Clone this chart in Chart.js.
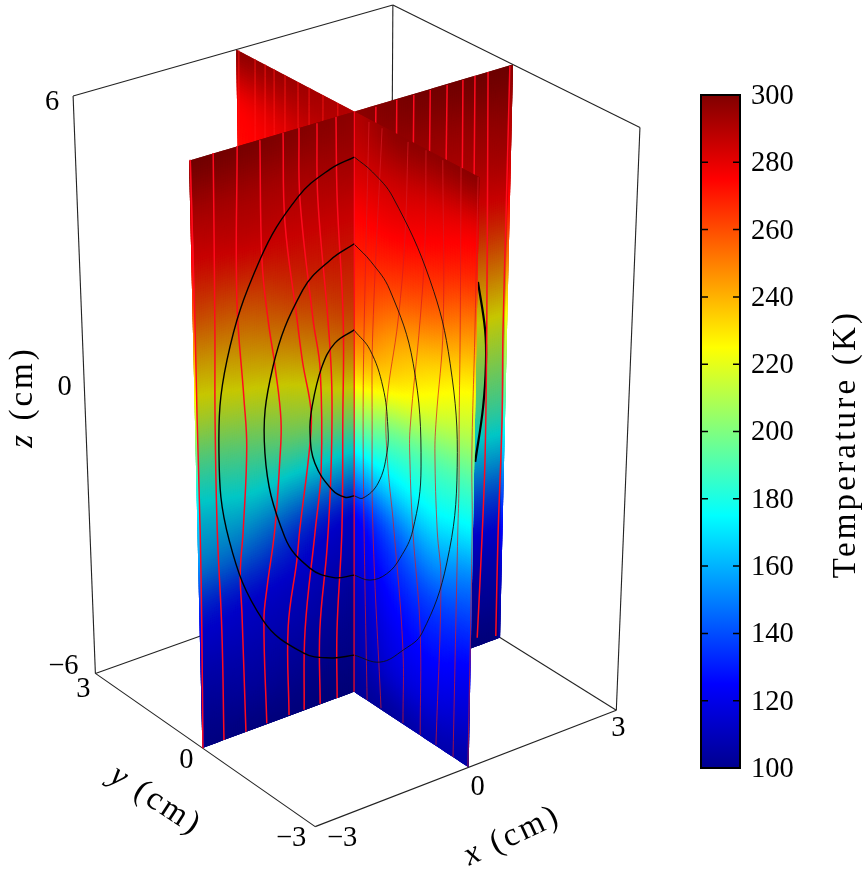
<!DOCTYPE html>
<html>
<head>
<meta charset="utf-8">
<style>
  body { margin: 0; background: #fff; overflow: hidden; }
  canvas { position: absolute; top: 0; }
</style>
<script src="https://cdn.jsdelivr.net/npm/chart.js@4"></script>
</head>
<body>
<canvas id="slices" width="863" height="880" style="left:0"></canvas>
<canvas id="colorbar" width="173" height="880" style="left:690px"></canvas>
<script>
// Temperature on two crossing slices (K)
const zLevels = [6, 5, 4, 3, 2, 1, 0, -1, -2, -3, -4, -5, -6];
const tCenter = [290, 284, 275, 268, 258, 238, 205, 165, 128, 117, 110, 106, 102];
const tLeft1 = [292, 283, 275, 265, 248, 226, 202, 168, 136, 123, 116, 109, 103];
const tLeft2 = [295, 284, 275, 258, 240, 220, 196, 173, 150, 128, 119, 112, 104];
const tLeft3 = [297, 284, 273, 257, 236, 216, 191, 170, 155, 132, 120, 111, 105];
const tRight1 = [297, 285, 275, 262, 245, 228, 195, 170, 143, 130, 122, 115, 103];
const tRight2 = [297, 282, 271, 256, 236, 218, 192, 175, 155, 137, 127, 118, 107];
const tRight3 = [298, 279, 266, 247, 228, 211, 190, 172, 150, 135, 123, 114, 105];
const tBackX1 = [295, 287, 280, 268, 250, 228, 205, 185, 160, 135, 118, 110, 103];
const tBackX2 = [297, 288, 280, 268, 248, 225, 205, 185, 160, 135, 118, 110, 103];
const tBackX3 = [298, 290, 282, 268, 247, 224, 205, 186, 161, 135, 119, 110, 103];
const tBackY1 = [293, 285, 278, 268, 250, 228, 205, 170, 140, 125, 116, 109, 103];
const tBackY2 = [295, 281, 274, 260, 242, 222, 198, 175, 150, 128, 119, 112, 104];
const tBackY3 = [297, 277, 272, 258, 238, 218, 193, 170, 155, 132, 120, 111, 105];

// contour lines, [x, z] on y=0 or [y, z] on x=0
const contourLeftOuter = [[0,5.13],[-0.45,5.04],[-1.05,4.69],[-1.76,3.70],[-2.39,1.94],[-2.57,0.13],[-2.41,-1.74],[-1.79,-3.69],[-1.01,-4.72],[-0.45,-5.06],[0,-5.18]];
const contourLeftMiddle = [[0,3.44],[-0.45,3.27],[-0.97,2.85],[-1.54,1.51],[-1.71,-0.19],[-1.35,-2.08],[-0.87,-2.93],[-0.40,-3.32],[0,-3.42]];
const contourLeftInner = [[0,1.72],[-0.37,1.58],[-0.62,1.18],[-0.81,0.43],[-0.85,-0.09],[-0.76,-0.75],[-0.43,-1.43],[-0.18,-1.68],[0,-1.72]];
const contourRightOuter = [[0,5.13],[-0.45,5.03],[-0.95,4.76],[-1.87,3.55],[-2.38,2.15],[-2.59,0.16],[-2.37,-1.93],[-1.77,-3.74],[-1.29,-4.37],[-0.69,-4.96],[0,-5.18]];
const contourRightMiddle = [[0,3.43],[-0.42,3.27],[-0.89,2.92],[-1.48,1.73],[-1.70,-0.27],[-1.51,-1.68],[-1.19,-2.44],[-0.85,-2.95],[-0.42,-3.31],[0,-3.42]];
const contourRightInner = [[0,1.71],[-0.40,1.50],[-0.73,0.90],[-0.86,0.14],[-0.84,-0.40],[-0.62,-1.14],[-0.23,-1.65],[0,-1.72]];
const contourBack = [[2.40,1.88],[2.56,0.84],[2.59,0.14],[2.55,-0.77],[2.41,-1.89]];

// heat flux lines, same coordinates
const centerLine = [[0,6],[0,-6]];
const fluxLeft = [
  [[-2.98,6.01],[-2.96,2.93],[-2.96,0.94],[-2.95,-1.32],[-2.96,-3.44],[-2.99,-6.01]],
  [[-2.57,6.01],[-2.60,2.67],[-2.63,0.82],[-2.63,-1.44],[-2.58,-3.59],[-2.58,-6.00]],
  [[-2.14,6.01],[-2.19,3.06],[-2.09,1.09],[-2.05,0.06],[-2.14,-1.63],[-2.21,-2.51],[-2.19,-3.38],[-2.15,-6.00]],
  [[-1.73,5.99],[-1.72,3.69],[-1.62,2.47],[-1.50,1.49],[-1.40,0.38],[-1.43,-0.44],[-1.54,-1.86],[-1.70,-3.01],[-1.77,-3.70],[-1.74,-5.98]],
  [[-1.31,6.00],[-1.29,4.27],[-1.08,2.29],[-0.98,1.39],[-0.83,0.38],[-0.85,-0.29],[-1.06,-2.04],[-1.12,-2.66],[-1.30,-4.03],[-1.30,-5.98]],
  [[-1.02,6.00],[-1.01,4.62],[-0.78,2.19],[-0.65,1.13],[-0.64,-0.93],[-0.76,-2.16],[-0.97,-4.23],[-1.00,-5.99]],
  [[-0.69,5.99],[-0.68,4.52],[-0.50,2.09],[-0.43,0.71],[-0.45,-1.01],[-0.53,-2.61],[-0.68,-4.35],[-0.68,-5.99]],
  [[-0.34,6.00],[-0.32,4.40],[-0.21,1.99],[-0.22,-0.05],[-0.24,-2.36],[-0.34,-4.49],[-0.34,-6.00]]
];
const fluxRight = [
  [[-0.36,5.95],[-0.25,1.83],[-0.23,-0.02],[-0.26,-2.32],[-0.35,-5.99]],
  [[-0.68,5.96],[-0.47,1.93],[-0.46,0.09],[-0.49,-2.20],[-0.72,-5.97]],
  [[-1.31,5.96],[-1.25,4.06],[-1.10,2.42],[-0.83,0.62],[-0.84,-0.40],[-1.03,-1.92],[-1.28,-4.31],[-1.30,-5.98]],
  [[-1.74,5.98],[-1.74,4.27],[-1.64,2.66],[-1.42,0.41],[-1.42,-0.26],[-1.51,-1.68],[-1.72,-3.70],[-1.75,-5.99]],
  [[-2.14,5.96],[-2.20,2.78],[-2.06,0.86],[-2.04,0.18],[-2.12,-1.37],[-2.23,-2.36],[-2.16,-5.98]],
  [[-2.57,6.01],[-2.61,2.91],[-2.62,1.13],[-2.64,-0.22],[-2.63,-1.11],[-2.60,-6.00]],
  [[-2.97,5.99],[-2.96,3.07],[-2.94,0.62],[-2.98,-0.93],[-2.98,-6.00]]
];
const fluxBackX = [
  [[0.40,5.97],[0.39,4.56]], [[0.79,5.98],[0.79,4.44]], [[1.11,5.98],[1.11,4.34]],
  [[1.42,5.98],[1.42,4.24]], [[1.74,5.98],[1.74,4.14]], [[2.04,5.99],[2.06,3.84]],
  [[2.27,6.00],[2.29,3.76]],
  [[2.52,6.00],[2.59,1.03],[2.61,-1.77],[2.58,-3.59],[2.52,-5.81]],
  [[2.94,5.99],[2.93,3.16],[2.92,0.71],[2.94,-1.19],[2.91,-3.71],[2.91,-5.93]]
];
const fluxBackY = [
  [[2.93,6.02],[2.97,4.04]], [[2.51,6.01],[2.54,4.22]], [[2.25,6.01],[2.28,4.32]],
  [[2.02,6.01],[2.04,4.42]], [[1.74,6.00],[1.76,4.54]], [[1.41,6.00],[1.42,4.68]],
  [[1.13,6.00],[1.14,4.79]], [[0.78,6.00],[0.79,4.94]], [[0.41,6.00],[0.41,5.10]]
];

// axis ticks
const xTicks = ['\u22123', '0', '3'];
const yTicks = ['\u22123', '0', '3'];
const zTicks = ['6', '0', '\u22126'];
const colorbarRange = [100, 300];
const jetStops = [[100, [0, 0, 143]], [125, [0, 0, 255]], [175, [0, 255, 255]], [225, [255, 255, 0]], [275, [255, 0, 0]], [300, [128, 0, 0]]];

// camera of the 3d box, fitted to its corners
const camera = [
  [54.0203, -35.6024, -2.46379, 354.2],
  [-14.6145, -19.3549, -51.1699, 413.911],
  [0.00658921, 0.00901034, -0.00703471, 1]
];

function project(x, y, z) {
  const w = camera[2][0] * x + camera[2][1] * y + camera[2][2] * z + camera[2][3];
  return {
    x: (camera[0][0] * x + camera[0][1] * y + camera[0][2] * z + camera[0][3]) / w,
    y: (camera[1][0] * x + camera[1][1] * y + camera[1][2] * z + camera[1][3]) / w
  };
}

function jet(t, shade) {
  for (let i = 1; i < jetStops.length; i++) {
    if (t <= jetStops[i][0] || i == jetStops.length - 1) {
      const a = jetStops[i - 1], b = jetStops[i];
      const f = Math.min(1, Math.max(0, (t - a[0]) / (b[0] - a[0])));
      const c = [0, 1, 2].map(k => Math.round((a[1][k] + (b[1][k] - a[1][k]) * f) * shade));
      return `rgb(${c[0]},${c[1]},${c[2]})`;
    }
  }
}

// slice point: 'x' slices sit on y=0, 'y' slices on x=0
function onSlice(axis, u, z) {
  return axis == 'x' ? project(u, 0, z) : project(0, u, z);
}

function lineSet(axis, pts, color, width) {
  return {
    data: pts.map(p => onSlice(axis, p[0], p[1])),
    showLine: true, pointRadius: 0, borderColor: color, borderWidth: width,
    tension: 0.4, clip: false
  };
}

function boxSet(a, b) {
  return {
    data: [project(a[0], a[1], a[2]), project(b[0], b[1], b[2])],
    showLine: true, pointRadius: 0, borderColor: '#222', borderWidth: 1.1, clip: false
  };
}

function sliceSet(axis, offsets, columns, shade) {
  return {
    data: [onSlice(axis, offsets[0], 6), onSlice(axis, offsets[3], 6), onSlice(axis, offsets[3], -6), onSlice(axis, offsets[0], -6)],
    showLine: true, pointRadius: 0, borderWidth: 0, clip: false,
    heat: { axis, offsets, columns, shade }
  };
}

const RED = '#ff0a1e';
const sets = [
  boxSet([-3, 3, -6], [3, 3, -6]),
  boxSet([3, 3, -6], [3, -3, -6]),
  boxSet([3, 3, 6], [3, 3, -6]),
  sliceSet('y', [0, 1, 2, 3], [tCenter, tBackY1, tBackY2, tBackY3], 1),
  ...fluxBackY.map(l => lineSet('y', l, 'rgba(255,20,20,.8)', 1)),
  sliceSet('x', [0, 1, 2, 3], [tCenter, tBackX1, tBackX2, tBackX3], 0.78),
  lineSet('x', contourBack, '#000', 2.2),
  ...fluxBackX.map(l => lineSet('x', l, RED, 1.5)),
  boxSet([-3, 3, 6], [3, 3, 6]),
  boxSet([3, 3, 6], [3, -3, 6]),
  boxSet([-3, 3, 6], [-3, 3, -6]),
  boxSet([3, -3, 6], [3, -3, -6]),
  boxSet([-3, 3, -6], [-3, -3, -6]),
  boxSet([-3, -3, -6], [3, -3, -6]),
  sliceSet('y', [0, -1, -2, -3], [tCenter, tRight1, tRight2, tRight3], 1),
  ...fluxRight.map(l => lineSet('y', l, 'rgba(215,25,35,.8)', 0.9)),
  lineSet('y', contourRightOuter, '#111', 0.9),
  lineSet('y', contourRightMiddle, '#111', 0.9),
  lineSet('y', contourRightInner, '#111', 0.9),
  sliceSet('x', [0, -1, -2, -3], [tCenter, tLeft1, tLeft2, tLeft3], 0.78),
  ...fluxLeft.map(l => lineSet('x', l, RED, 1.5)),
  lineSet('x', centerLine, RED, 1.2),
  lineSet('x', contourLeftOuter, '#000', 1.4),
  lineSet('x', contourLeftMiddle, '#000', 1.4),
  lineSet('x', contourLeftInner, '#000', 1.4)
];
// chart.js paints the highest order first
sets.forEach((s, i) => { s.order = sets.length - i; });

function spline(p0, p1, p2, p3, t) {
  return p1 + 0.5 * t * (p2 - p0 + t * (2 * p0 - 5 * p1 + 4 * p2 - p3 + t * (3 * (p1 - p2) + p3 - p0)));
}

// shaded cells of a slice, painted just before its dataset
const sliceHeat = {
  id: 'sliceHeat',
  beforeDatasetDraw(chart, args) {
    const h = chart.data.datasets[args.index].heat;
    if (!h) return;
    const ctx = chart.ctx, sx = chart.scales.x, sy = chart.scales.y;
    const px = p => [sx.getPixelForValue(p.x), sy.getPixelForValue(p.y)];
    const nu = 75, nz = 240;
    const nr = zLevels.length;
    const colAt = (c, b) => {
      const r = Math.min(nr - 2, Math.floor(b)), col = h.columns[c];
      return spline(col[Math.max(0, r - 1)], col[r], col[r + 1], col[Math.min(nr - 1, r + 2)], b - r);
    };
    const tempAt = (a, b) => {
      const c = Math.min(2, Math.floor(a));
      return spline(colAt(Math.max(0, c - 1), b), colAt(c, b), colAt(c + 1, b), colAt(Math.min(3, c + 2), b), a - c);
    };
    const sign = h.offsets[3] / 3;
    ctx.save();
    for (let i = 0; i < nu; i++) {
      const u0 = i / nu * 3, u1 = Math.min(nu, i + 2) / nu * 3;
      for (let j = 0; j < nz; j++) {
        const b0 = j / nz * 12, b1 = Math.min(nz, j + 2) / nz * 12;
        const t = tempAt((i + 0.5) / nu * 3, (j + 0.5) / nz * 12);
        // the outer rim of a dim slice keeps the full colours
        ctx.fillStyle = jet(t, i >= nu - 1 ? 1 : h.shade);
        // each cell runs over its next neighbours, which paint over it, so no seams show
        const a = px(onSlice(h.axis, u0 * sign, 6 - b0)), b = px(onSlice(h.axis, u1 * sign, 6 - b0));
        const c = px(onSlice(h.axis, u1 * sign, 6 - b1)), d = px(onSlice(h.axis, u0 * sign, 6 - b1));
        ctx.beginPath();
        ctx.moveTo(a[0], a[1]); ctx.lineTo(b[0], b[1]); ctx.lineTo(c[0], c[1]); ctx.lineTo(d[0], d[1]);
        ctx.closePath();
        ctx.fill();
      }
    }
    ctx.restore();
  }
};

const FONT = '28.5px "Liberation Serif"';
const TITLE = '33px "Liberation Serif"';
const TITLE_ITALIC = 'italic 33px "Liberation Serif"';

function axisTitle(ctx, letter, cx, cy, angle) {
  ctx.save();
  ctx.translate(cx, cy);
  ctx.rotate(angle * Math.PI / 180);
  ctx.letterSpacing = '3px';
  ctx.textAlign = 'left';
  ctx.font = TITLE_ITALIC;
  const w1 = ctx.measureText(letter).width;
  ctx.font = TITLE;
  const rest = ' (cm)';
  const w2 = ctx.measureText(rest).width;
  const x = -(w1 + w2) / 2;
  ctx.font = TITLE_ITALIC;
  ctx.fillText(letter, x, 0);
  ctx.font = TITLE;
  ctx.fillText(rest, x + w1, 0);
  ctx.restore();
}

const axisLabels = {
  id: 'axisLabels',
  afterDraw(chart) {
    const ctx = chart.ctx;
    ctx.save();
    ctx.fillStyle = '#000';
    ctx.font = FONT;
    ctx.textAlign = 'center';
    ctx.textBaseline = 'middle';
    const put = (t, p, dx, dy) => ctx.fillText(t, p.x + dx, p.y + dy);
    put(zTicks[0], project(-3, 3, 6), -21, 6);
    put(zTicks[1], project(-3, 3, 0), -20, -9);
    put(zTicks[2], project(-3, 3, -6), -32, -7);
    put(yTicks[0], project(-3, -3, -6), -24, 12);
    put(yTicks[1], project(-3, 0, -6), -16, 13);
    put(yTicks[2], project(-3, 3, -6), -12, 16);
    put(xTicks[0], project(-3, -3, -6), 27, 12);
    put(xTicks[1], project(0, -3, -6), 9, 20);
    put(xTicks[2], project(3, -3, -6), 2, 18);
    ctx.textBaseline = 'alphabetic';
    axisTitle(ctx, 'x', 516, 844, -25);
    axisTitle(ctx, 'y', 151, 808, 33);
    axisTitle(ctx, 'z', 32, 397, -90);
    ctx.restore();
  }
};

new Chart(document.getElementById('slices'), {
  type: 'scatter',
  data: { datasets: sets },
  options: {
    responsive: false,
    animation: false,
    layout: { padding: 0 },
    plugins: { legend: { display: false }, tooltip: { enabled: false } },
    scales: {
      x: { type: 'linear', min: 0, max: 863, display: false },
      y: { type: 'linear', min: 0, max: 880, reverse: true, display: false }
    }
  },
  plugins: [sliceHeat, axisLabels]
});

// colour bar: frame, inner ticks, tick labels and the upward reading title
const barFrame = {
  id: 'barFrame',
  afterDatasetsDraw(chart) {
    const ctx = chart.ctx, a = chart.chartArea, sy = chart.scales.y;
    ctx.save();
    ctx.strokeStyle = '#000';
    ctx.fillStyle = '#000';
    ctx.lineWidth = 1.5;
    ctx.font = FONT;
    ctx.textAlign = 'left';
    ctx.textBaseline = 'middle';
    sy.ticks.forEach(t => {
      const py = sy.getPixelForValue(t.value);
      ctx.beginPath();
      ctx.moveTo(a.left, py); ctx.lineTo(a.left + 7, py);
      ctx.moveTo(a.right - 7, py); ctx.lineTo(a.right, py);
      ctx.stroke();
      ctx.fillText(t.label, a.right + 11, py + 1.5);
    });
    ctx.lineWidth = 2;
    ctx.strokeRect(a.left, a.top, a.right - a.left, a.bottom - a.top);
    ctx.translate(165, 444);
    ctx.rotate(-Math.PI / 2);
    ctx.letterSpacing = '3.2px';
    ctx.font = TITLE;
    ctx.textAlign = 'center';
    ctx.textBaseline = 'alphabetic';
    ctx.fillText('Temperature (K)', 0, 0);
    ctx.restore();
  }
};

new Chart(document.getElementById('colorbar'), {
  type: 'bar',
  data: {
    labels: ['Temperature'],
    datasets: [{
      data: [colorbarRange],
      barPercentage: 1,
      categoryPercentage: 1,
      borderWidth: 0,
      backgroundColor(c) {
        const a = c.chart.chartArea;
        if (!a) return '#000';
        const g = c.chart.ctx.createLinearGradient(0, a.bottom, 0, a.top);
        jetStops.forEach(s => g.addColorStop((s[0] - 100) / 200, `rgb(${s[1].join(',')})`));
        return g;
      }
    }]
  },
  options: {
    responsive: false,
    animation: false,
    layout: { padding: { left: 11, top: 95, bottom: 112, right: 0 } },
    plugins: { legend: { display: false }, tooltip: { enabled: false } },
    scales: {
      x: { display: false },
      y: {
        position: 'right',
        min: colorbarRange[0],
        max: colorbarRange[1],
        afterFit(scale) { scale.width = 123; },
        border: { display: false },
        grid: { display: false, drawTicks: false },
        ticks: { stepSize: 20, display: false }
      }
    }
  },
  plugins: [barFrame]
});
</script>
</body>
</html>
